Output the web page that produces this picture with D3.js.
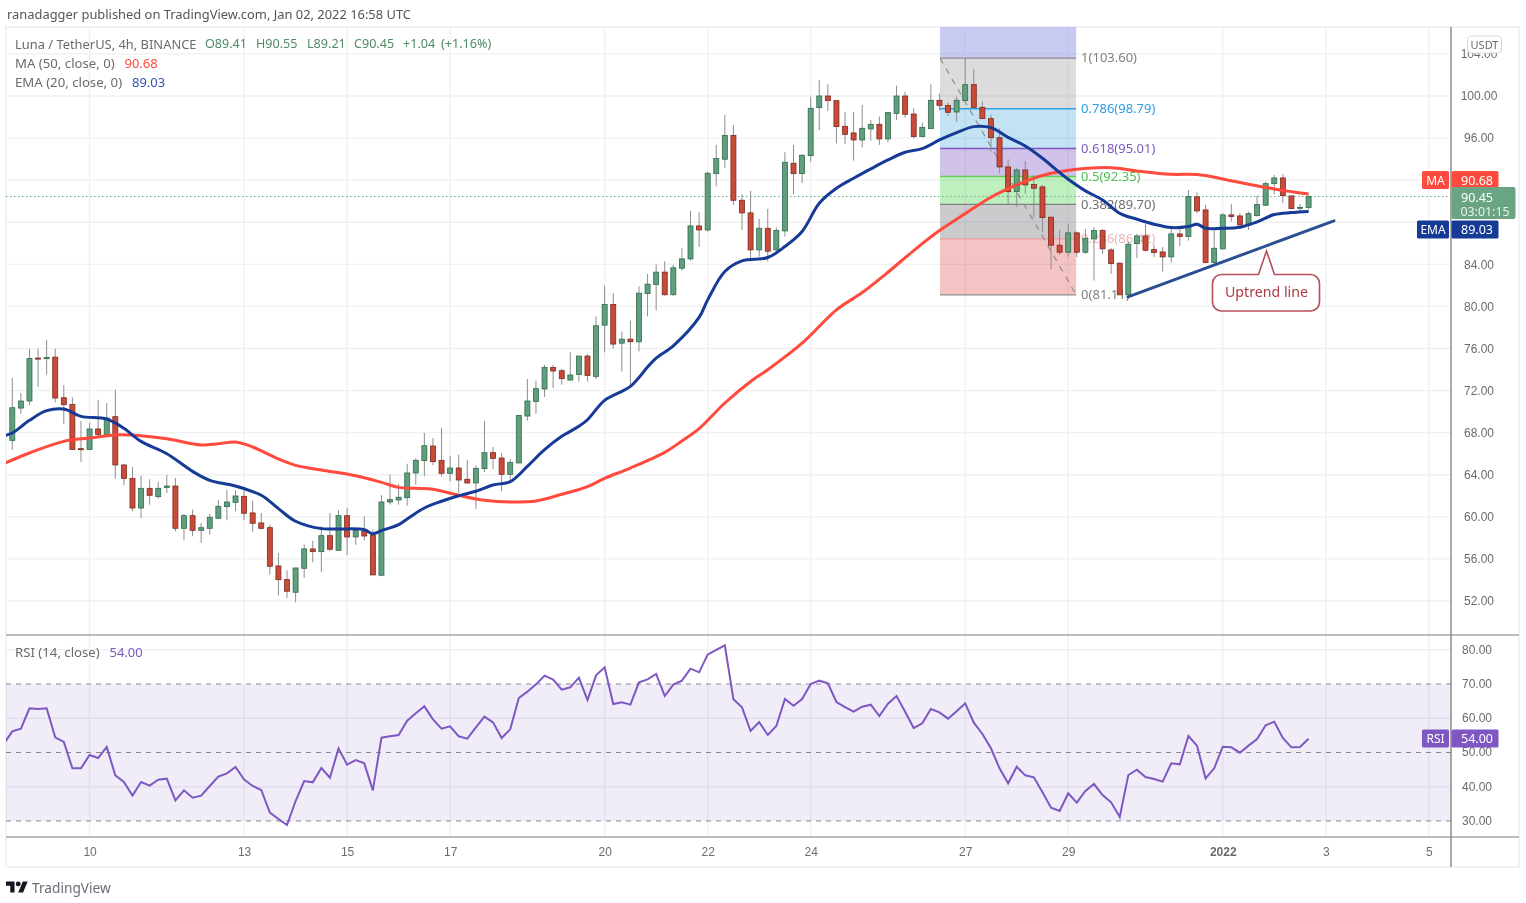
<!DOCTYPE html>
<html><head><meta charset="utf-8">
<script src="https://cdn.jsdelivr.net/npm/d3@7/dist/d3.min.js"></script>
<style>
html,body{margin:0;padding:0;background:#fff;overflow:hidden}
svg{display:block;font-family:"Noto Sans",sans-serif;filter:blur(.35px)}
</style></head><body><svg id="c" width="1526" height="903"></svg>
<script>
// ---- data ----
const opens=[67.27,70.34,71.01,75.09,75.03,75.18,71.32,70.69,66.48,66.41,
68.35,67.84,69.52,64.93,63.66,60.84,62.71,61.92,62.80,62.93,
58.91,60.11,58.72,58.91,59.86,60.97,61.38,61.95,60.37,59.42,
58.97,55.33,54.03,52.83,55.11,56.95,56.69,58.21,56.82,60.11,
58.09,58.63,58.25,54.45,61.41,61.60,61.82,64.17,65.34,66.73,
65.37,64.14,64.64,63.57,63.22,64.58,66.10,65.59,64.04,65.12,
69.58,70.97,72.15,74.20,73.89,73.00,73.54,75.28,73.35,78.22,
80.19,76.51,76.89,76.64,81.23,82.09,83.26,81.11,83.63,84.52,
87.65,87.27,92.62,93.99,96.26,90.09,88.89,85.37,87.43,85.37,
87.18,93.61,92.62,94.33,98.89,100.00,99.56,97.12,96.49,95.82,
96.87,97.31,95.92,98.35,100.00,98.29,96.14,96.90,99.59,99.11,
98.48,99.56,101.08,98.92,97.85,96.04,93.26,90.91,92.97,91.58,
91.36,88.48,85.82,85.15,86.99,85.15,86.42,87.21,85.37,84.11,
81.10,85.97,86.70,85.40,85.18,84.71,86.89,86.64,90.41,89.17,
84.17,85.47,88.70,88.60,87.75,88.63,89.62,91.67,92.21,90.50,
89.33,89.41];
const highs=[73.19,71.77,75.98,75.98,76.83,75.98,72.52,71.35,69.11,68.92,
71.13,70.81,72.08,65.02,64.74,63.91,63.57,63.34,63.98,63.69,
60.27,60.68,59.42,60.27,61.63,62.58,62.52,62.52,61.54,60.37,
59.26,56.57,54.92,55.14,57.36,57.71,59.10,60.37,60.65,60.87,
58.78,60.05,58.78,62.05,64.01,63.12,65.05,65.59,67.97,67.49,
68.47,65.81,65.91,65.40,64.90,69.11,66.64,66.04,65.50,69.64,
73.10,72.94,74.46,74.46,74.08,75.63,75.31,75.47,79.05,81.96,
81.26,77.62,78.64,81.90,83.10,84.00,84.30,83.95,85.53,89.08,
88.95,92.81,95.35,98.20,97.25,90.66,90.98,88.32,89.27,87.50,
94.65,95.35,94.46,99.94,101.52,101.11,99.62,98.45,98.51,99.15,
97.72,98.04,98.51,100.98,100.41,98.83,97.47,101.11,100.25,99.37,
99.94,103.60,102.57,99.46,98.20,96.93,93.99,93.19,93.83,92.50,
91.55,88.54,87.27,87.84,87.12,87.37,87.53,87.37,85.53,84.17,
86.16,86.89,87.84,85.85,85.63,87.43,87.43,91.07,90.85,89.65,
87.21,88.85,89.74,88.85,89.01,90.53,91.86,92.50,92.56,90.53,
89.74,90.55];
const lows=[66.38,69.80,70.63,72.34,73.51,70.88,68.82,66.38,65.21,66.38,
67.71,67.71,63.63,63.00,60.53,59.86,61.16,61.73,62.27,58.63,
57.77,58.15,57.52,58.31,59.83,59.67,60.53,59.67,58.59,58.78,
54.51,52.52,52.29,51.88,54.19,55.68,54.76,56.72,56.79,56.35,
57.33,57.77,54.45,54.35,61.16,61.16,61.06,63.06,63.85,64.90,
63.85,63.38,62.27,63.15,60.75,64.26,64.55,62.43,63.53,65.12,
69.14,69.80,71.39,72.24,72.56,72.97,72.87,72.87,73.10,75.63,
75.98,73.82,72.40,75.72,79.05,79.62,81.01,81.01,83.41,84.36,
85.66,87.12,91.39,93.13,89.65,87.27,84.27,84.74,84.27,84.96,
86.64,90.66,91.74,93.76,96.77,98.58,95.50,95.44,93.86,95.13,
95.76,95.35,95.60,97.72,97.94,95.98,96.07,96.83,98.61,98.10,
97.56,99.56,98.89,97.82,94.71,92.66,89.65,89.43,90.69,88.48,
87.05,83.54,84.90,84.74,84.68,84.99,82.46,84.99,83.09,81.10,
81.10,84.58,85.21,84.68,83.31,84.17,85.75,86.26,88.85,84.11,
84.11,85.44,88.06,87.34,87.27,88.54,89.55,90.66,89.80,89.24,
89.01,89.21];
const closes=[70.37,71.01,75.06,74.99,75.15,71.29,70.66,66.41,66.38,68.35,
67.84,69.39,64.93,63.66,60.84,62.71,62.05,62.71,62.93,58.91,
60.11,58.72,58.97,59.96,61.00,61.41,61.98,60.34,59.39,58.91,
55.30,54.03,52.93,55.14,56.95,56.69,58.21,56.92,60.11,58.09,
58.69,58.18,54.48,61.41,61.63,61.86,64.17,65.37,66.76,65.24,
64.14,64.64,63.50,63.22,64.61,66.10,65.56,64.04,65.18,69.64,
71.01,72.18,74.20,73.86,73.13,73.48,75.28,73.44,78.16,80.19,
76.42,76.89,76.64,81.26,82.12,83.26,81.11,83.67,84.52,87.65,
87.27,92.66,94.05,96.26,90.09,88.89,85.37,87.43,85.25,87.21,
93.70,92.62,94.37,98.83,100.00,99.56,97.09,96.36,95.82,96.93,
97.31,95.92,98.42,100.00,98.26,96.14,97.02,99.59,99.11,98.45,
99.59,101.08,98.92,97.85,96.04,93.26,90.91,92.97,91.55,91.23,
88.44,85.82,85.15,86.99,85.15,86.48,87.21,85.47,84.07,81.10,
85.91,86.70,85.34,85.12,84.71,86.89,86.64,90.44,89.08,84.17,
85.53,88.70,88.54,87.75,88.82,89.68,91.67,92.21,90.53,89.30,
89.42,90.45];

const emaIndex=[-1,0,2,4,6,8,11,13,15,18,21,23,26,29,31,33,36,38,41,42,43,45,46,48,50,52,54,56,58,60,62,64,66,67,69,72,74,75,77,80,81,83,85,88,90,92,94,96,98,100,102,104,106,108,110,112,114,116,118,120,122,123,125,127,129,131,133,135,137,138,139,141,143,145,147,149,151];
const emaValues=[67.71,67.97,69.17,70.09,70.25,69.55,69.30,68.41,67.17,66.00,64.32,63.47,62.93,62.05,60.78,59.58,58.88,58.85,58.78,58.40,58.69,59.26,59.80,60.84,61.48,62.01,62.43,63.03,63.34,64.80,66.38,67.65,68.60,69.23,71.07,72.40,74.24,75.09,76.26,78.95,80.62,83.32,84.33,84.65,85.69,87.12,89.80,91.23,92.18,93.07,93.92,94.65,95.00,95.82,96.52,97.09,96.99,96.07,95.25,94.08,92.72,92.08,90.98,90.12,88.85,88.29,87.81,87.49,87.59,87.81,87.43,87.43,87.53,88.03,88.73,88.92,89.03];
const maIndex=[-1,2,6,9,12,15,18,22,24,26,28,31,33,36,40,43,45,47,49,52,55,58,61,64,67,69,72,76,78,80,83,86,88,92,96,99,102,105,108,111,114,117,120,124,128,131,135,138,141,144,147,149,151];
const maValues=[65.05,66.07,67.17,67.49,67.78,67.71,67.43,66.83,66.95,67.11,66.64,65.50,64.89,64.45,63.91,63.28,62.80,62.71,62.62,62.05,61.57,61.41,61.51,62.14,62.87,63.66,64.64,66.13,67.21,68.38,70.82,72.87,73.98,76.50,79.67,81.32,83.25,85.31,87.21,88.82,90.38,91.55,92.45,93.03,93.19,92.88,92.56,92.53,92.12,91.61,91.17,90.91,90.68];
const rsiValues=[52.48,56.18,56.96,62.90,62.70,62.90,54.43,53.07,45.38,45.38,49.27,48.39,51.61,43.33,41.39,37.40,41.39,40.32,42.07,42.36,36.04,38.95,36.81,37.40,40.22,42.95,43.92,45.77,42.07,40.22,39.05,32.43,30.59,28.83,35.84,41.68,41.29,45.48,42.65,51.22,46.45,47.81,46.84,38.95,54.33,54.72,55.11,59.29,61.44,63.48,59.68,56.96,57.64,54.72,54.04,57.35,60.46,58.81,54.23,56.76,65.91,67.76,69.90,72.43,71.27,68.35,69.03,71.85,65.33,72.53,74.87,64.16,64.65,63.97,70.49,71.36,72.92,66.50,69.81,70.97,74.48,73.41,78.56,79.93,81.29,65.52,63.19,56.28,58.91,55.11,57.74,65.62,63.67,65.62,70.00,70.97,70.19,64.74,63.28,61.92,63.38,63.97,60.66,64.26,66.50,61.92,57.15,58.52,62.70,61.73,59.88,62.02,64.36,58.71,55.40,51.22,45.38,41.00,45.86,43.33,42.75,38.37,33.89,32.92,38.08,35.35,38.76,40.80,37.59,35.45,31.17,43.43,44.99,42.85,42.26,41.49,46.84,46.55,54.82,52.00,42.46,45.38,51.70,51.51,49.95,52.00,53.94,57.93,59.00,54.23,51.51,51.61,54.00];
const rsiStartIndex=-1;

const priceTicks=[52,56,60,64,68,72,76,80,84,88,92,96,100,104];
const priceTickLabels=[52,56,60,64,68,72,76,80,84,96,100,104]; // 88 and 92 sit behind the badges
const rsiTicks=[30,40,50,60,70,80];
const rsiDashed=[70,50,30];
const timeIndex=[9,27,39,51,69,81,93,111,123,141,153,165];
const timeLabels=["10","13","15","17","20","22","24","27","29","2022","3","5"];

const fibPrices=[103.60,98.79,95.01,92.35,89.70,86.42,81.10];
const fibLabels=["1(103.60)","0.786(98.79)","0.618(95.01)","0.5(92.35)","0.382(89.70)","0.236(86.42)","0(81.11)"];
const fibStartIndex=108.07, fibEndIndex=123.92;
const trendIndex=[129.96,153.95], trendPrices=[80.91,88.13];
const lastPrice=90.45;

// ---- scales ----
const L=6,R=1451,E=1519,T=27,P=635,B=837,F=867;
const x=d3.scaleLinear().domain([0,151]).range([12.3,1308.6]);
const y=d3.scaleLinear().domain([100,52]).range([96,601]);
const yr=d3.scaleLinear().domain([70,30]).range([684,821]);
const svg=d3.select("#c");
const defs=svg.append("defs");
defs.append("clipPath").attr("id","pc").append("rect").attr("x",L).attr("y",T).attr("width",R-L).attr("height",P-T);
defs.append("clipPath").attr("id","rc").append("rect").attr("x",L).attr("y",P).attr("width",R-L).attr("height",B-P);

const GRID="#eef0f3",TXT="#6b6b6b";
const txt=(g,xx,yy,s,c,o={})=>g.append("text").attr("x",xx).attr("y",yy).attr("fill",c).attr("font-size",o.size||13).attr("text-anchor",o.anchor||"start").attr("dominant-baseline","central").attr("font-weight",o.weight||400).text(s);

txt(svg,7,13.5,"ranadagger published on TradingView.com, Jan 02, 2022 16:58 UTC","#555",{size:12.9});

// frame
svg.append("rect").attr("x",L).attr("y",T).attr("width",E-L).attr("height",F-T).attr("fill","#fff").attr("stroke","#f0f2f7").attr("stroke-width",2);

// grid
const grid=svg.append("g");
grid.selectAll(".v").data(timeIndex).join("line").attr("x1",d=>x(d)).attr("x2",d=>x(d)).attr("y1",T).attr("y2",B).attr("stroke",GRID).attr("stroke-width",1.3);
grid.selectAll(".h").data(priceTicks).join("line").attr("x1",L).attr("x2",R).attr("y1",d=>y(d)).attr("y2",d=>y(d)).attr("stroke",GRID).attr("stroke-width",1.3);
grid.selectAll(".r").data(rsiTicks.filter(d=>!rsiDashed.includes(d))).join("line").attr("x1",L).attr("x2",R).attr("y1",d=>yr(d)).attr("y2",d=>yr(d)).attr("stroke",GRID).attr("stroke-width",1.3);

// fib
const fib=svg.append("g").attr("clip-path","url(#pc)");
const fx0=x(fibStartIndex),fx1=x(fibEndIndex);
const fibFill=["#9b9ee6","#8a8a8a","#5aaee0","#7e57c2","#4cd24c","#7d7d85","#e05a5a"];
const fibOp=[.55,.3,.36,.36,.36,.4,.36];
fib.selectAll("rect").data(fibPrices).join("rect").attr("x",fx0).attr("width",fx1-fx0)
 .attr("y",(d,i)=>i==0?T:y(fibPrices[i-1])).attr("height",(d,i)=>i==0?y(d)-T:y(d)-y(fibPrices[i-1]))
 .attr("fill",(d,i)=>fibFill[i]).attr("fill-opacity",(d,i)=>fibOp[i]);
const fibLine=["#8c8c8c","#2f9fe0","#7e57c2","#66cc55","#808080","#e9a0a0","#8c8c8c"];
const fibText=["#808080","#2f9fe0","#7e57c2","#4cc24c","#707070","#f0b4b4","#808080"];
fib.selectAll("line").data(fibPrices).join("line").attr("x1",fx0).attr("x2",fx1).attr("y1",d=>y(d)).attr("y2",d=>y(d)).attr("stroke",(d,i)=>fibLine[i]).attr("stroke-width",1.3);
fibPrices.forEach((p,i)=>txt(fib,fx1+5,y(p)-.8,fibLabels[i],fibText[i]));
fib.append("line").attr("x1",fx0).attr("y1",y(fibPrices[0])).attr("x2",fx1).attr("y2",y(fibPrices[6])).attr("stroke","#8f8f8f").attr("stroke-width",1.2).attr("stroke-dasharray","6 6");

// last price dotted
svg.append("line").attr("x1",L).attr("x2",R).attr("y1",y(lastPrice)).attr("y2",y(lastPrice)).attr("stroke","#6aa583").attr("stroke-dasharray","1.5 2.5").attr("stroke-width",1);

// candles
const up="#5f9f7d",upB="#2f6b4c",dn="#c94a38",dnB="#7c2a1f";
const candles=svg.append("g").attr("clip-path","url(#pc)");
const idx=d3.range(opens.length);
candles.selectAll(".w").data(idx).join("line").attr("x1",i=>x(i)).attr("x2",i=>x(i)).attr("y1",i=>y(highs[i])).attr("y2",i=>y(lows[i])).attr("stroke","#8e8e8e").attr("stroke-width",1);
candles.selectAll(".b").data(idx).join("rect").attr("x",i=>x(i)-2.5).attr("width",5)
 .attr("y",i=>y(Math.max(opens[i],closes[i]))).attr("height",i=>Math.max(1,Math.abs(y(opens[i])-y(closes[i]))))
 .attr("fill",i=>closes[i]>=opens[i]?up:dn).attr("stroke",i=>closes[i]>=opens[i]?upB:dnB).attr("stroke-width",.8);

// MA / EMA
const curve=d3.line().curve(d3.curveCatmullRom.alpha(.5));
candles.append("path").attr("d",curve(maIndex.map((k,i)=>[x(k),y(maValues[i])]))).attr("fill","none").attr("stroke","#ff4a3d").attr("stroke-width",3);
candles.append("path").attr("d",curve(emaIndex.map((k,i)=>[x(k),y(emaValues[i])]))).attr("fill","none").attr("stroke","#163b96").attr("stroke-width",3);

// trend line + callout
candles.append("line").attr("x1",x(trendIndex[0])).attr("y1",y(trendPrices[0])).attr("x2",x(trendIndex[1])).attr("y2",y(trendPrices[1])).attr("stroke","#2a4f92").attr("stroke-width",3).attr("stroke-linecap","round");
const cx=1266.5;
svg.append("path").attr("d",`M${cx-45},274.5 H${cx-8} L${cx},251 L${cx+8},274.5 H${cx+44} a9,9 0 0 1 9,9 V302 a9,9 0 0 1 -9,9 H${cx-45} a9,9 0 0 1 -9,-9 V283.5 a9,9 0 0 1 9,-9 Z`).attr("fill","#fff").attr("stroke","#b5505a").attr("stroke-width",1.6);
txt(svg,cx,291.5,"Uptrend line","#ad3a44",{anchor:"middle",size:14.2});

// RSI
svg.append("rect").attr("x",L).attr("width",R-L).attr("y",yr(70)).attr("height",yr(30)-yr(70)).attr("fill","#7e57c2").attr("fill-opacity",.11);
svg.append("g").selectAll("line").data(rsiDashed).join("line").attr("x1",L).attr("x2",R).attr("y1",d=>yr(d)).attr("y2",d=>yr(d)).attr("stroke","#8a8794").attr("stroke-width",1.2).attr("stroke-dasharray","5 5");
svg.append("path").attr("clip-path","url(#rc)").attr("d",d3.line()(rsiValues.map((v,i)=>[x(i+rsiStartIndex),yr(v)]))).attr("fill","none").attr("stroke","#7e57c2").attr("stroke-width",2);

// separators
svg.append("line").attr("x1",L).attr("x2",E).attr("y1",P).attr("y2",P).attr("stroke","#7d7d7d").attr("stroke-width",1.2);
svg.append("line").attr("x1",L).attr("x2",E).attr("y1",B).attr("y2",B).attr("stroke","#7d7d7d").attr("stroke-width",1.2);
svg.append("line").attr("x1",R).attr("x2",R).attr("y1",T).attr("y2",F).attr("stroke","#6f6f6f").attr("stroke-width",1.2);

// axes
const fmt=d=>d3.format(".2f")(d);
const styleAxis=g=>{g.select(".domain").remove();g.selectAll(".tick line").remove();g.selectAll("text").attr("fill",TXT).attr("font-size",12).attr("font-family","inherit").attr("text-anchor","middle").attr("x",0);};
svg.append("g").attr("transform","translate(1479,0)").call(d3.axisRight(y).tickValues(priceTickLabels).tickFormat(fmt)).call(styleAxis);
svg.append("g").attr("transform","translate(1477,-.5)").call(d3.axisRight(yr).tickValues(rsiTicks).tickFormat(fmt)).call(styleAxis);
svg.append("g").attr("transform","translate(0,851.5)").call(d3.axisBottom(x).tickValues(timeIndex).tickFormat((d,i)=>timeLabels[i])).call(styleAxis).call(g=>g.selectAll("text").attr("y",0).attr("dy",".35em").attr("font-weight",(d,i)=>timeLabels[i]=="2022"?700:400));

// USDT
svg.append("rect").attr("x",1467.5).attr("y",36).attr("width",34).attr("height",17).attr("rx",4).attr("fill","#fff").attr("stroke","#d5d8e0");
txt(svg,1484.5,44.5,"USDT",TXT,{anchor:"middle",size:11});

// price badges
const badge=(name,val,yc,col,lx)=>{
 svg.append("rect").attr("x",lx).attr("y",yc-9).attr("width",1449-lx).attr("height",18).attr("rx",1.5).attr("fill",col);
 svg.append("rect").attr("x",1451.5).attr("y",yc-9).attr("width",47).attr("height",18).attr("rx",1.5).attr("fill",col);
 txt(svg,(lx+1449)/2,yc,name,"#fff",{anchor:"middle",size:12});
 txt(svg,1477,yc,val,"#fff",{anchor:"middle",size:12.5});
};
badge("MA","90.68",180,"#ff4a3d",1422);
svg.append("rect").attr("x",1451.5).attr("y",187).attr("width",64).attr("height",32).attr("rx",2).attr("fill","#6aa583");
txt(svg,1477,197,"90.45","#fff",{anchor:"middle",size:12.5});
txt(svg,1485,211,"03:01:15","#e6f0ea",{anchor:"middle",size:12.4});
badge("EMA","89.03",229.5,"#163b96",1417);
badge("RSI","54.00",738.5,"#7e57c2",1422);

// legend
const lg=svg.append("g");
txt(lg,15,43.5,"Luna / TetherUS, 4h, BINANCE",TXT,{size:12.9});
[["O89.41",205],["H90.55",256],["L89.21",307],["C90.45",354],["+1.04",403],["(+1.16%)",441]].forEach(d=>txt(lg,d[1],43.5,d[0],"#4f8a68",{size:12.6}));
txt(lg,15,62.5,"MA (50, close, 0)",TXT,{size:13.2}); txt(lg,124.5,62.5,"90.68","#ff4a3d");
txt(lg,15,81.5,"EMA (20, close, 0)",TXT,{size:13.2}); txt(lg,132,81.5,"89.03","#2f55b0");
txt(lg,15,651.5,"RSI (14, close)",TXT,{size:13.2}); txt(lg,109.5,651.5,"54.00","#7e57c2");

// logo
const logo=svg.append("g").attr("transform","translate(6,879) scale(0.61)").attr("fill","#131722");
logo.append("path").attr("d","M14 22H7V11H0V4h14v18zM28 22h-8l7.5-18h8L28 22z");
logo.append("circle").attr("cx",20).attr("cy",8).attr("r",4);
txt(svg,32,887,"TradingView","#6a6d78",{size:13.7});
</script></body></html>
